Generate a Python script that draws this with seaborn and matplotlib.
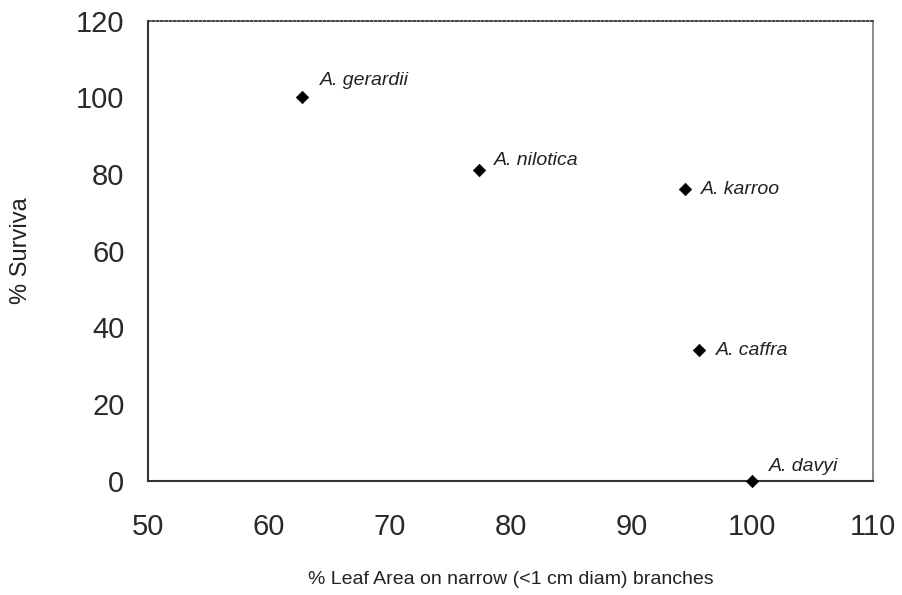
import matplotlib
matplotlib.use("Agg")
import matplotlib.pyplot as plt
import seaborn as sns
import pandas as pd

# Survival of Acacia species against leaf area carried on narrow branches
species = ["A. gerardii", "A. nilotica", "A. karroo", "A. caffra", "A. davyi"]
leaf_area_narrow = [62.7, 77.4, 94.4, 95.6, 100.0]
survival = [100, 81, 76, 34, 0]

# label offsets in pixels (dx, dy, horizontal alignment, vertical alignment)
label_offsets = [(18, 8, "left", "bottom"),
                 (15, 1, "left", "bottom"),
                 (16, 0, "left", "center"),
                 (17, 0, "left", "center"),
                 (17, 6, "left", "bottom")]

df = pd.DataFrame({"leaf": leaf_area_narrow, "surv": survival, "sp": species})

sns.set_style("white")
plt.rcParams["font.family"] = ["Liberation Sans", "DejaVu Sans"]

fig = plt.figure(figsize=(9.03, 5.95), dpi=100)
ax = fig.add_axes([0.164, 0.192, 0.803, 0.773])

sns.scatterplot(data=df, x="leaf", y="surv", ax=ax, marker="D", s=40,
                color="black", edgecolor="black", linewidth=0.5, zorder=3,
                clip_on=False)

for (x, y, name), (dx, dy, ha, va) in zip(zip(leaf_area_narrow, survival, species), label_offsets):
    ax.annotate(name, (x, y), xytext=(dx, dy), textcoords="offset pixels",
                ha=ha, va=va, fontsize=14, style="italic", color="#222222")

ax.set_xlim(50, 110)
ax.set_ylim(0, 120)
ax.set_xticks(range(50, 111, 10))
ax.set_yticks(range(0, 121, 20))
ax.tick_params(axis="both", labelsize=21, colors="#333333", labelcolor="#2a2a2a")
ax.tick_params(axis="x", direction="inout", length=8, width=1.2, pad=19)
ax.tick_params(axis="y", direction="out", length=7, width=1.2, pad=10)

for side in ["left", "bottom"]:
    ax.spines[side].set_color("#333333")
    ax.spines[side].set_linewidth(1.5)
ax.spines["right"].set_color("#777777")
ax.spines["right"].set_linewidth(1.2)
ax.spines["top"].set_color("#444444")
ax.spines["top"].set_linewidth(1.4)
ax.spines["top"].set_linestyle((0, (1.0, 1.2)))

ax.set_xlabel("% Leaf Area on narrow (<1 cm diam) branches", fontsize=14,
              color="#222222", labelpad=22)
ax.set_ylabel("% Surviva", fontsize=17, color="#222222", labelpad=32)

fig.savefig("out.png", dpi=100)
